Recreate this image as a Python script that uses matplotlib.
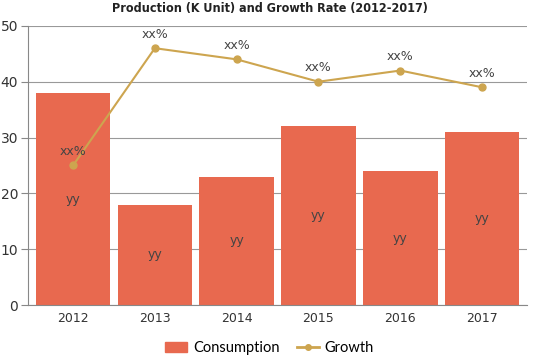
import matplotlib
matplotlib.use("Agg")
import matplotlib.pyplot as plt
from matplotlib.lines import Line2D
from matplotlib.patches import Patch

years = ["2012", "2013", "2014", "2015", "2016", "2017"]
consumption = [38, 18, 23, 32, 24, 31]
growth = [25, 46, 44, 40, 42, 39]
bar_labels = ["yy"] * 6
line_labels = ["xx%"] * 6

bar_color = "#E8694F"
line_color = "#CDA54F"

fig = plt.figure(figsize=(5.39, 3.59), dpi=100)
ax = fig.add_axes([0.052, 0.150, 0.926, 0.778])

x = list(range(len(years)))
ax.bar(x, consumption, width=0.91, color=bar_color, zorder=2)
ax.plot(x, growth, color=line_color, marker="o", markersize=5, linewidth=1.5, zorder=3)

for xi, v, t in zip(x, consumption, bar_labels):
    ax.text(xi, v / 2, t, ha="center", va="center", fontsize=9, color="#444444", zorder=4)
for xi, v, t in zip(x, growth, line_labels):
    ax.text(xi, v + 1.3, t, ha="center", va="bottom", fontsize=9, color="#444444", zorder=4)

ax.set_xlim(-0.55, 5.55)
ax.set_ylim(0, 50)
ax.set_yticks(range(0, 51, 10))
ax.set_xticks(x)
ax.set_xticklabels(years)
ax.yaxis.grid(True, color="#999999", linewidth=0.8, zorder=0)
ax.set_axisbelow(True)
for s in ["top", "right"]:
    ax.spines[s].set_visible(False)
ax.spines["left"].set_color("#888888")
ax.spines["bottom"].set_color("#888888")
ax.tick_params(axis="y", length=5, color="#888888", labelsize=10, labelcolor="#333333", pad=2)
ax.tick_params(axis="x", length=0, labelsize=9, labelcolor="#333333", pad=5)

fig.suptitle("Production (K Unit) and Growth Rate (2012-2017)", x=0.5, y=0.995,
             fontsize=9, fontweight="bold", fontstretch="condensed", color="#222222",
             family="DejaVu Sans")

handles = [Patch(color=bar_color, label="Consumption"),
           Line2D([0], [0], color=line_color, marker="o", markersize=4, linewidth=2, label="Growth")]
fig.legend(handles=handles, loc="center", bbox_to_anchor=(0.5, 0.03), ncol=2, frameon=False,
           prop={"family": "Lato", "size": 10.5}, handlelength=1.5, columnspacing=1.2,
           handletextpad=0.4)

fig.savefig("out.png", dpi=100)
